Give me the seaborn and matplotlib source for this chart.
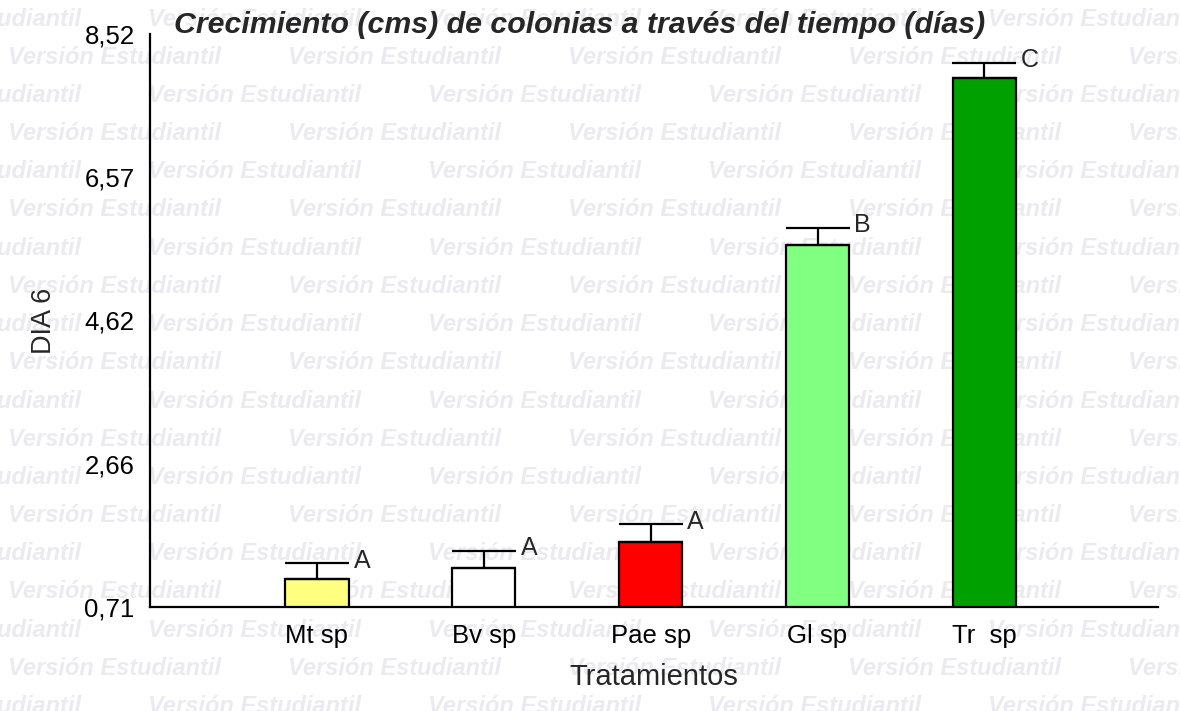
import pandas as pd
import seaborn as sns
import matplotlib.pyplot as plt

# datos (DIA 6)
tratamientos = ["Mt sp", "Bv sp", "Pae sp", "Gl sp", "Tr  sp"]
medias = [1.09, 1.24, 1.60, 5.64, 7.92]
errores = [0.22, 0.24, 0.24, 0.24, 0.21]
letras = ["A", "A", "A", "B", "C"]
colores = ["#FFFF80", "#FFFFFF", "#FF0000", "#80FF80", "#00A000"]
y_ticks = [0.71, 2.66, 4.62, 6.57, 8.52]

df = pd.DataFrame({"Tratamientos": tratamientos, "DIA 6": medias})

sns.set_style("white")
plt.rcParams["font.family"] = ["Liberation Sans", "DejaVu Sans"]

fig = plt.figure(figsize=(11.8, 7.11), dpi=100)
ax = fig.add_axes([150 / 1180, 1 - 607 / 711, 1008 / 1180, 573 / 711])
ax.set_facecolor("none")

# marca de agua "Versión Estudiantil"
for i in range(19):
    y = 1 - (19 + 38.2 * i) / 711
    x0 = 148 if i % 2 == 0 else 8
    for k in range(-1, 5):
        fig.text((x0 + 280 * k) / 1180, y, "Versión Estudiantil", fontsize=17,
                 fontweight="bold", style="italic", color="#ebebef",
                 ha="left", va="center", zorder=-1)

sns.barplot(data=df, x="Tratamientos", y="DIA 6", hue="Tratamientos",
            palette=colores, saturation=1, width=0.38, edgecolor="black",
            linewidth=1.6, legend=False, ax=ax, zorder=2)

pos = list(range(len(tratamientos)))
ax.errorbar(pos, medias, yerr=[[0] * 5, errores], fmt="none", ecolor="black",
            elinewidth=1.6, capsize=23, capthick=1.6, zorder=3)

for p, m, e, l in zip(pos, medias, errores, letras):
    ax.text(p + 0.22, m + e + 0.03, l, fontsize=18, ha="left", va="center")

xmax = 5.04
ax.set_xlim(-1, xmax)
ax.set_ylim(y_ticks[0], y_ticks[-1])
ax.set_xticks([-1] + pos + [xmax], [""] + tratamientos + [""])
ax.set_yticks(y_ticks, [f"{v:.2f}".replace(".", ",") for v in y_ticks])

for s in ["top", "right"]:
    ax.spines[s].set_visible(False)
for s in ["left", "bottom"]:
    ax.spines[s].set_linewidth(1.6)
    ax.spines[s].set_color("black")
ax.tick_params(axis="both", direction="out", length=8, width=1.6, color="black",
               labelsize=18.5, labelcolor="black")
ax.tick_params(axis="y", pad=3)
ax.tick_params(axis="x", pad=4)

ax.set_xlabel("Tratamientos", fontsize=21, labelpad=11)
ax.set_ylabel("DIA 6", fontsize=19.5, labelpad=20)

fig.text(580 / 1180, 1 - 25 / 711,
         "Crecimiento (cms) de colonias a través del tiempo (días)",
         fontsize=21.8, fontweight="bold", style="italic", ha="center", va="center")

fig.savefig("out.png", dpi=100)
